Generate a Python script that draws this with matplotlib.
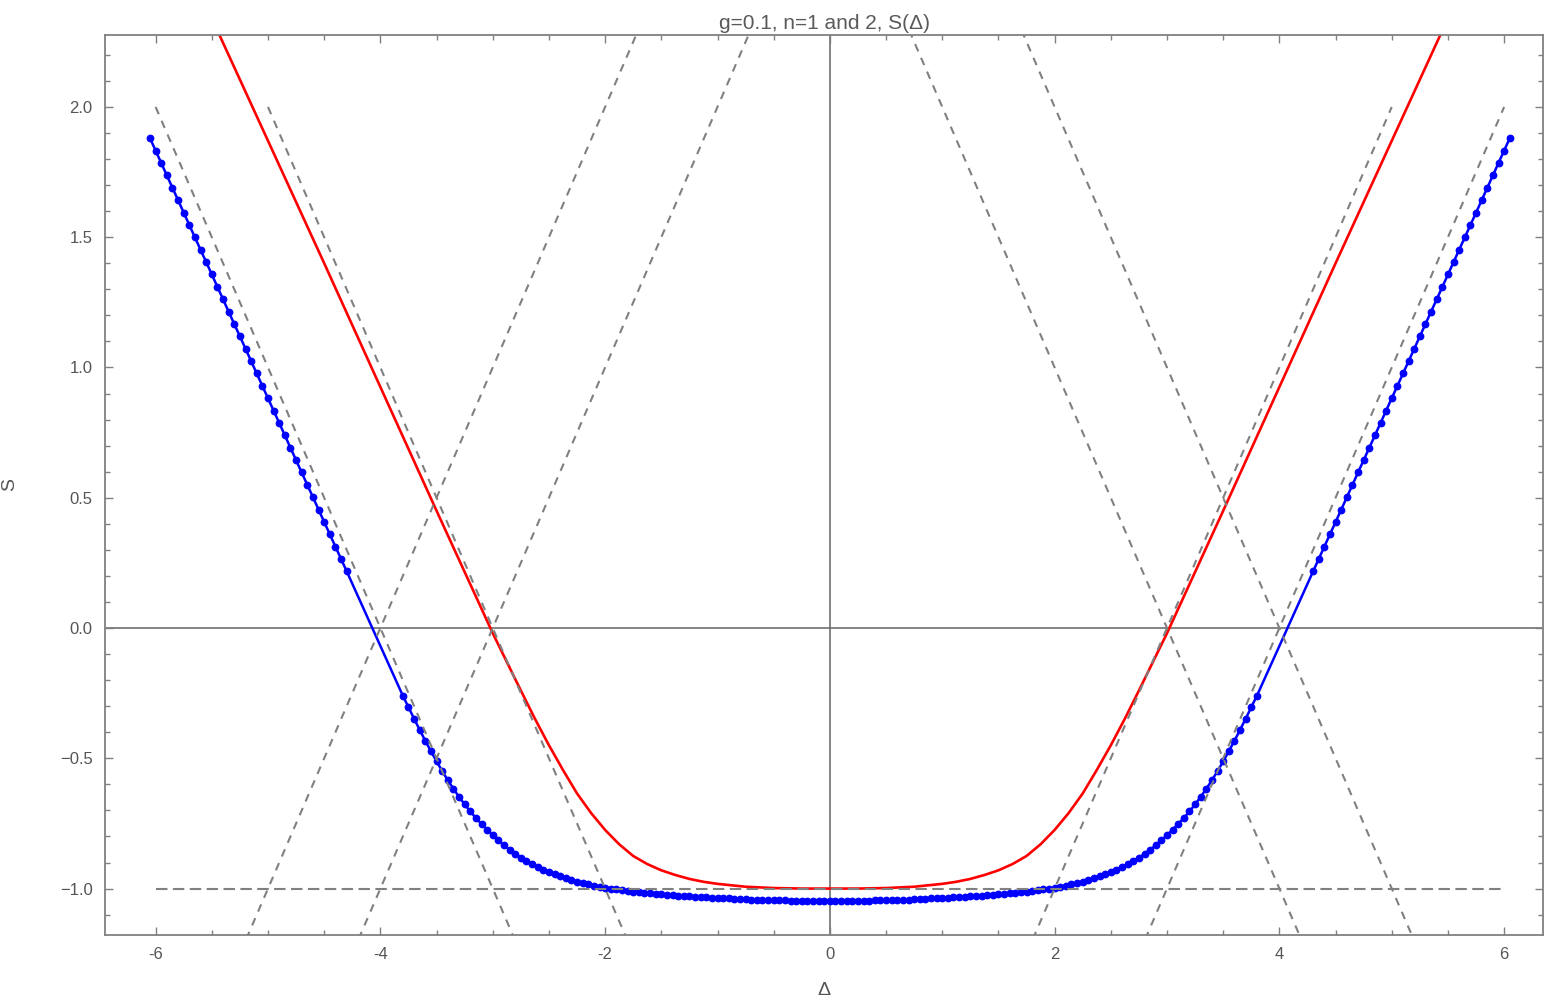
import matplotlib
matplotlib.use("Agg")
import matplotlib.pyplot as plt
from matplotlib.ticker import MultipleLocator

plt.rcParams['font.family'] = ['Liberation Sans', 'DejaVu Sans']

# red curve (n=1)
red_x = [-5.5, -5.0, -4.5, -4.0, -3.5, -3.25, -3.0, -2.875, -2.75, -2.625, -2.5, -2.375,
         -2.25, -2.125, -2.0, -1.875, -1.75, -1.625, -1.5, -1.375, -1.25, -1.125, -1.0,
         -0.75, -0.5, -0.25, 0.0,
         0.25, 0.5, 0.75, 1.0, 1.125, 1.25, 1.375, 1.5, 1.625, 1.75, 1.875, 2.0, 2.125,
         2.25, 2.375, 2.5, 2.625, 2.75, 2.875, 3.0, 3.25, 3.5, 4.0, 4.5, 5.0, 5.5]
red_y = [2.34, 1.87, 1.40, 0.925, 0.45, 0.215, -0.02, -0.13, -0.24, -0.348, -0.45, -0.545,
         -0.635, -0.71, -0.775, -0.83, -0.875, -0.906, -0.93, -0.948, -0.963, -0.974, -0.982,
         -0.993, -0.998, -1.0, -1.0,
         -1.0, -0.998, -0.993, -0.982, -0.974, -0.963, -0.948, -0.93, -0.906, -0.875, -0.83,
         -0.775, -0.71, -0.635, -0.545, -0.45, -0.348, -0.24, -0.13, -0.02, 0.215, 0.45,
         0.925, 1.40, 1.87, 2.34]

# blue points (n=2)
blue_x_left = [-6.05, -6.00, -5.95, -5.90, -5.85, -5.80, -5.75, -5.70, -5.65, -5.60, -5.55, -5.50,
               -5.45, -5.40, -5.35, -5.30, -5.25, -5.20, -5.15, -5.10, -5.05, -5.00, -4.95, -4.90,
               -4.85, -4.80, -4.75, -4.70, -4.65, -4.60, -4.55, -4.50, -4.45, -4.40, -4.35, -4.30,
               -3.80, -3.75, -3.70, -3.65, -3.60, -3.55, -3.50, -3.45, -3.40, -3.35, -3.30, -3.25,
               -3.20, -3.15, -3.10, -3.05, -3.00, -2.95, -2.90, -2.85, -2.80, -2.75, -2.70, -2.65,
               -2.60, -2.55, -2.50, -2.45, -2.40, -2.35, -2.30, -2.25, -2.20, -2.15, -2.10, -2.05,
               -2.00, -1.95, -1.90, -1.85, -1.80, -1.75, -1.70, -1.65, -1.60, -1.55, -1.50, -1.45,
               -1.40, -1.35, -1.30, -1.25, -1.20, -1.15, -1.10, -1.05, -1.00, -0.95, -0.90, -0.85,
               -0.80, -0.75, -0.70, -0.65, -0.60, -0.55, -0.50, -0.45, -0.40, -0.35, -0.30, -0.25,
               -0.20, -0.15, -0.10, -0.05, 0.00]
blue_y_left = [1.880, 1.832, 1.785, 1.737, 1.690, 1.642, 1.594, 1.547, 1.499, 1.452, 1.404, 1.357,
               1.309, 1.262, 1.214, 1.167, 1.119, 1.072, 1.024, 0.977, 0.929, 0.882, 0.834, 0.787,
               0.739, 0.692, 0.644, 0.597, 0.549, 0.502, 0.454, 0.407, 0.360, 0.312, 0.265, 0.218,
               -0.260, -0.304, -0.348, -0.391, -0.433, -0.473, -0.512, -0.549, -0.584, -0.617, -0.648, -0.677,
               -0.704, -0.729, -0.752, -0.774, -0.795, -0.815, -0.834, -0.851, -0.867, -0.881, -0.894, -0.906,
               -0.917, -0.927, -0.936, -0.945, -0.953, -0.960, -0.967, -0.973, -0.979, -0.984, -0.989, -0.993,
               -0.997, -1.000, -1.003, -1.006, -1.009, -1.012, -1.014, -1.016, -1.018, -1.020, -1.022, -1.024,
               -1.026, -1.027, -1.029, -1.030, -1.032, -1.033, -1.034, -1.035, -1.036, -1.037, -1.038, -1.039,
               -1.040, -1.041, -1.042, -1.042, -1.043, -1.044, -1.044, -1.045, -1.045, -1.046, -1.046, -1.046,
               -1.047, -1.047, -1.047, -1.047, -1.047]
blue_x_right = [0.05, 0.10, 0.15, 0.20, 0.25, 0.30, 0.35, 0.40, 0.45, 0.50, 0.55, 0.60,
                0.65, 0.70, 0.75, 0.80, 0.85, 0.90, 0.95, 1.00, 1.05, 1.10, 1.15, 1.20,
                1.25, 1.30, 1.35, 1.40, 1.45, 1.50, 1.55, 1.60, 1.65, 1.70, 1.75, 1.80,
                1.85, 1.90, 1.95, 2.00, 2.05, 2.10, 2.15, 2.20, 2.25, 2.30, 2.35, 2.40,
                2.45, 2.50, 2.55, 2.60, 2.65, 2.70, 2.75, 2.80, 2.85, 2.90, 2.95, 3.00,
                3.05, 3.10, 3.15, 3.20, 3.25, 3.30, 3.35, 3.40, 3.45, 3.50, 3.55, 3.60,
                3.65, 3.70, 3.75, 3.80,
                4.30, 4.35, 4.40, 4.45, 4.50, 4.55, 4.60, 4.65, 4.70, 4.75, 4.80, 4.85,
                4.90, 4.95, 5.00, 5.05, 5.10, 5.15, 5.20, 5.25, 5.30, 5.35, 5.40, 5.45,
                5.50, 5.55, 5.60, 5.65, 5.70, 5.75, 5.80, 5.85, 5.90, 5.95, 6.00, 6.05]
blue_y_right = [-1.047, -1.047, -1.047, -1.047, -1.046, -1.046, -1.046, -1.045, -1.045, -1.044, -1.044, -1.043,
                -1.042, -1.042, -1.041, -1.040, -1.039, -1.038, -1.037, -1.036, -1.035, -1.034, -1.033, -1.032,
                -1.030, -1.029, -1.027, -1.026, -1.024, -1.022, -1.020, -1.018, -1.016, -1.014, -1.012, -1.009,
                -1.006, -1.003, -1.000, -0.997, -0.993, -0.989, -0.984, -0.979, -0.973, -0.967, -0.960, -0.953,
                -0.945, -0.936, -0.927, -0.917, -0.906, -0.894, -0.881, -0.867, -0.851, -0.834, -0.815, -0.795,
                -0.774, -0.752, -0.729, -0.704, -0.677, -0.648, -0.617, -0.584, -0.549, -0.512, -0.473, -0.433,
                -0.391, -0.348, -0.304, -0.260,
                0.218, 0.265, 0.312, 0.360, 0.407, 0.454, 0.502, 0.549, 0.597, 0.644, 0.692, 0.739,
                0.787, 0.834, 0.882, 0.929, 0.977, 1.024, 1.072, 1.119, 1.167, 1.214, 1.262, 1.309,
                1.357, 1.404, 1.452, 1.499, 1.547, 1.594, 1.642, 1.690, 1.737, 1.785, 1.832, 1.880]

# dashed guide lines y = slope*x + icpt on [x0, x1]
dash_slope = [-1, -1, 1, 1, -1, -1, 1, 1]
dash_icpt = [-4, -3, 4, 3, 3, 4, -3, -4]
dash_x0 = [-6.0, -5.0, -5.3, -4.3, 0.6, 1.6, 1.7, 2.7]
dash_x1 = [-2.7, -1.7, -1.6, -0.6, 4.3, 5.3, 5.0, 6.0]
hline_y = -1.0
hline_x = [-6.0, 6.0]

xticks = [-6, -4, -2, 0, 2, 4, 6]
xticklabels = ['-6', '-4', '-2', '0', '2', '4', '6']
yticks = [-1.0, -0.5, 0.0, 0.5, 1.0, 1.5, 2.0]
yticklabels = ['\u22121.0', '\u22120.5', '0.0', '0.5', '1.0', '1.5', '2.0']

fig = plt.figure(figsize=(15.45, 10.01), dpi=100)
ax = fig.add_axes([0.068, 0.066, 0.931, 0.899])

gray = '#808080'
ax.axhline(0, color='#707070', lw=1.2, zorder=1)
ax.axvline(0, color='#707070', lw=1.2, zorder=1)

ax.plot(red_x, red_y, color='#ff0000', lw=1.9, zorder=2)
ax.plot(blue_x_left + blue_x_right, blue_y_left + blue_y_right, color='#0000ff', lw=1.8,
        marker='o', ms=4.6, zorder=3)

for s, c, a, b in zip(dash_slope, dash_icpt, dash_x0, dash_x1):
    ax.plot([a, b], [s * a + c, s * b + c], color=gray, lw=1.5, ls=(0, (3.8, 3.4)), zorder=4)
ax.plot(hline_x, [hline_y, hline_y], color=gray, lw=1.5, ls=(0, (5.5, 2.6)), zorder=4)

ax.set_xlim(-6.45, 6.35)
ax.set_ylim(-1.178, 2.276)
ax.set_xticks(xticks)
ax.set_xticklabels(xticklabels)
ax.set_yticks(yticks)
ax.set_yticklabels(yticklabels)
ax.xaxis.set_minor_locator(MultipleLocator(0.5))
ax.yaxis.set_minor_locator(MultipleLocator(0.1))
ax.tick_params(which='both', direction='in', top=True, right=True, color=gray,
               labelcolor='#555555', labelsize=12, width=1)
ax.tick_params(which='major', length=6, pad=9)
ax.tick_params(which='minor', length=3.5)
for sp in ax.spines.values():
    sp.set_color(gray)
    sp.set_linewidth(1.3)

ax.set_title('g=0.1, n=1 and 2, S(\u0394)', color='#5a5a5a', fontsize=15, pad=4)
ax.set_xlabel('\u0394', color='#555555', fontsize=14, labelpad=14)
ax.set_ylabel('S', color='#555555', fontsize=14, labelpad=30)

fig.savefig('out.png', dpi=100)
